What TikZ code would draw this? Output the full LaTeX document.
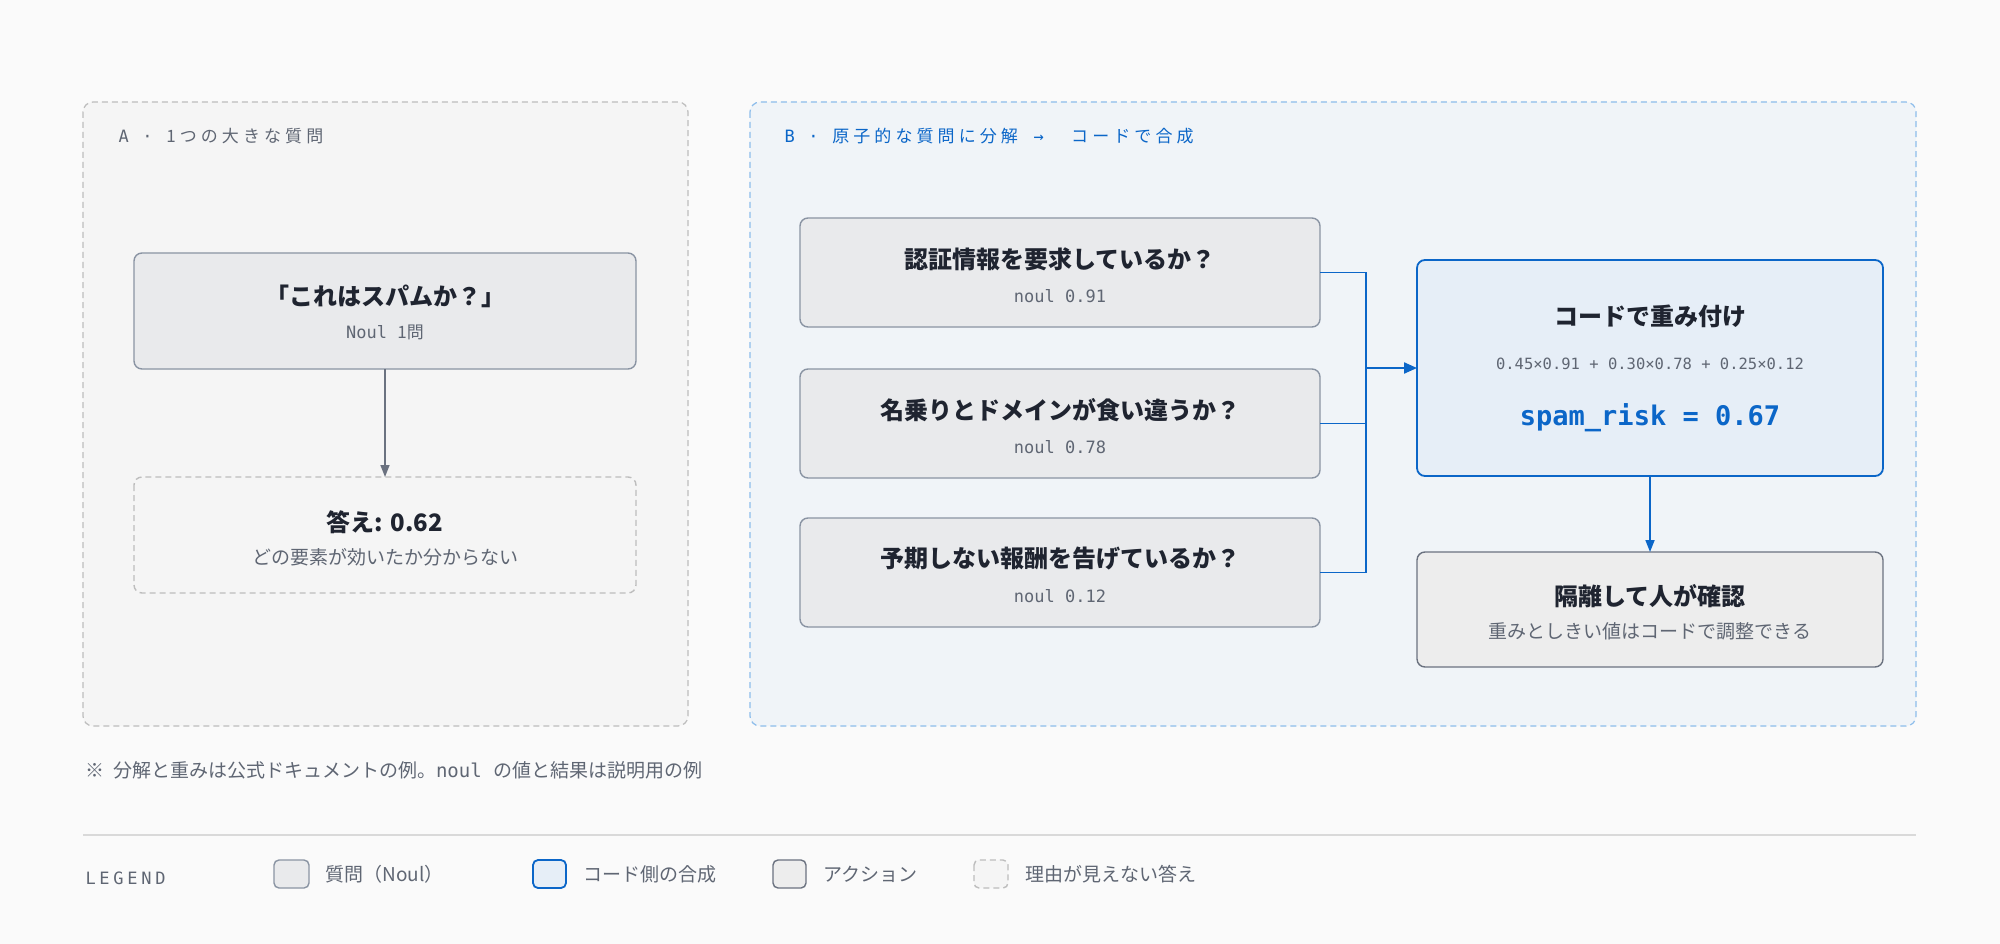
\documentclass[tikz,border=0pt]{standalone}
\usepackage{fontspec}
\setmainfont{Noto Sans CJK JP}
\newfontfamily\cjk{Noto Sans CJK JP}
\newfontfamily\cjksp[LetterSpace=24]{Noto Sans CJK JP}
\setmonofont{DejaVu Sans Mono}
\newfontfamily\monosp[LetterSpace=20]{DejaVu Sans Mono}
\newfontfamily\monolg[LetterSpace=22]{DejaVu Sans Mono}
\usetikzlibrary{arrows.meta}
\definecolor{bg}{HTML}{FAFAFA}
\definecolor{pa}{HTML}{F5F5F5}
\definecolor{pab}{HTML}{BDBDBD}
\definecolor{pb}{HTML}{F0F4F8}
\definecolor{pbb}{HTML}{8DBDEB}
\definecolor{qf}{HTML}{E9EAEC}
\definecolor{qb}{HTML}{8A94A3}
\definecolor{cf}{HTML}{E6EEF7}
\definecolor{cb}{HTML}{0B66C8}
\definecolor{af}{HTML}{EDEDED}
\definecolor{ab}{HTML}{6B7280}
\definecolor{tx}{HTML}{1F2430}
\definecolor{sub}{HTML}{5F6673}
\definecolor{lg}{HTML}{D9D9D9}
\newcommand{\fs}[1]{\fontsize{#1}{#1}\selectfont}
\begin{document}
\begin{tikzpicture}[x=1pt,y=-1pt,
 panel/.style={draw,dashed,rounded corners=10pt,line width=1.2pt,dash pattern=on 6pt off 4pt},
 box/.style={draw,rounded corners=8pt,line width=1.4pt},
 q/.style={box,fill=qf,draw=qb},
 code/.style={box,fill=cf,draw=cb,line width=1.8pt},
 act/.style={box,fill=af,draw=ab},
 ans/.style={box,fill=pa,draw=pab,dashed,dash pattern=on 6pt off 4pt},
 ttl/.style={font=\fs{24}\bfseries,text=tx},
 mono/.style={font=\fs{17}\ttfamily,text=sub},
 small/.style={font=\fs{19},text=sub},
 gar/.style={-{Triangle[length=12pt,width=9pt]},line width=1.5pt,draw=ab},
 bar/.style={line width=1.6pt,draw=cb}]
\fill[bg] (0,0) rectangle (2000,944);
\useasboundingbox (0,0) rectangle (2000,944);
% panels
\draw[panel,fill=pa,draw=pab] (83,102) rectangle (688,726);
\draw[panel,fill=pb,draw=pbb] (750,102) rectangle (1916,726);
\node[anchor=west,text=sub,font=\fs{17}] (la) at (115,136) {\monosp A · \cjksp 1つの大きな質問};
\node[anchor=west,text=cb,font=\fs{17}] (lb) at (781,136) {\monosp B · \cjksp 原子的な質問に分解\ \ \monosp → \ \cjksp コードで合成};
% panel A
\path[q] (134,253) rectangle (636,369);
\node[ttl] (qt) at (385,296) {「これはスパムか？」};
\node[text=sub,font=\fs{17}] (qs) at (385,332) {\ttfamily Noul \cjk 1問};
\coordinate (qbot) at (385,369);
\path[ans] (134,477) rectangle (636,593);
\coordinate (atop) at (385,477);
\node[ttl] (at) at (385,522) {答え: 0.62};
\node[small] (as) at (385,557) {どの要素が効いたか分からない};
\draw[gar] (qbot) -- (atop);
% questions
\foreach \n/\y/\t/\v in {1/218/認証情報を要求しているか？/0.91, 2/369/名乗りとドメインが食い違うか？/0.78, 3/518/予期しない報酬を告げているか？/0.12}{
  \path[q] (800,\y) rectangle (1320,\y+109);
  \node[ttl] (q\n t) at (1060,\y+41) {\t};
  \node[mono] (q\n s) at (1060,\y+78) {noul \v};
  \coordinate (q\n r) at (1320,\y+54.5);
}
\coordinate (bus1) at (1366,272.5);
\coordinate (bus2) at (1366,423.5);
\coordinate (bus3) at (1366,572.5);
\coordinate (busm) at (1366,368);
% code box
\path[code] (1417,260) rectangle (1883,476);
\coordinate (cl) at (1417,368);
\node[ttl] (ct) at (1650,316) {コードで重み付け};
\node[font=\fs{15.5}\ttfamily,text=sub] (cf) at (1650,364) {0.45×0.91 + 0.30×0.78 + 0.25×0.12};
\node[font=\fs{27}\ttfamily\bfseries,text=cb] (cr) at (1650,418) {spam\_risk = 0.67};
\draw[bar] (q1r) -- (bus1) -- (bus3) -- (q3r);
\draw[bar] (q2r) -- (bus2);
\draw[bar,line width=2.2pt,-{Triangle[length=13pt,width=11pt]}] (busm) -- (cl);
% action
\path[act] (1417,552) rectangle (1883,667);
\coordinate (cbot) at (1650,476);
\coordinate (xtop) at (1650,552);
\node[ttl] (xt) at (1650,596) {隔離して人が確認};
\node[small] (xs) at (1650,631) {重みとしきい値はコードで調整できる};
\draw[bar,-{Triangle[length=12pt,width=9pt]}] (cbot) -- (xtop);
% footnote
\node[anchor=west,small] (fn) at (82,770) {※ \ 分解と重みは公式ドキュメントの例。\ttfamily noul \cjk の値と結果は説明用の例};
\draw[lg,line width=1.5pt] (83,835) -- (1916,835);
% legend
\node[anchor=west,font=\fs{17}\monolg,text=sub] (lgd) at (82,878) {LEGEND};
\draw[q,rounded corners=5pt] (274,860) rectangle (309,888);
\node[anchor=west,small] (l1) at (322,874) {質問（Noul）};
\draw[code,rounded corners=5pt] (533,860) rectangle (566,888);
\node[anchor=west,small] (l2) at (580,874) {コード側の合成};
\draw[act,rounded corners=5pt] (773,860) rectangle (806,888);
\node[anchor=west,small] (l3) at (820,874) {アクション};
\draw[ans,rounded corners=5pt] (974,860) rectangle (1008,888);
\node[anchor=west,small] (l4) at (1022,874) {理由が見えない答え};
\end{tikzpicture}
\end{document}
